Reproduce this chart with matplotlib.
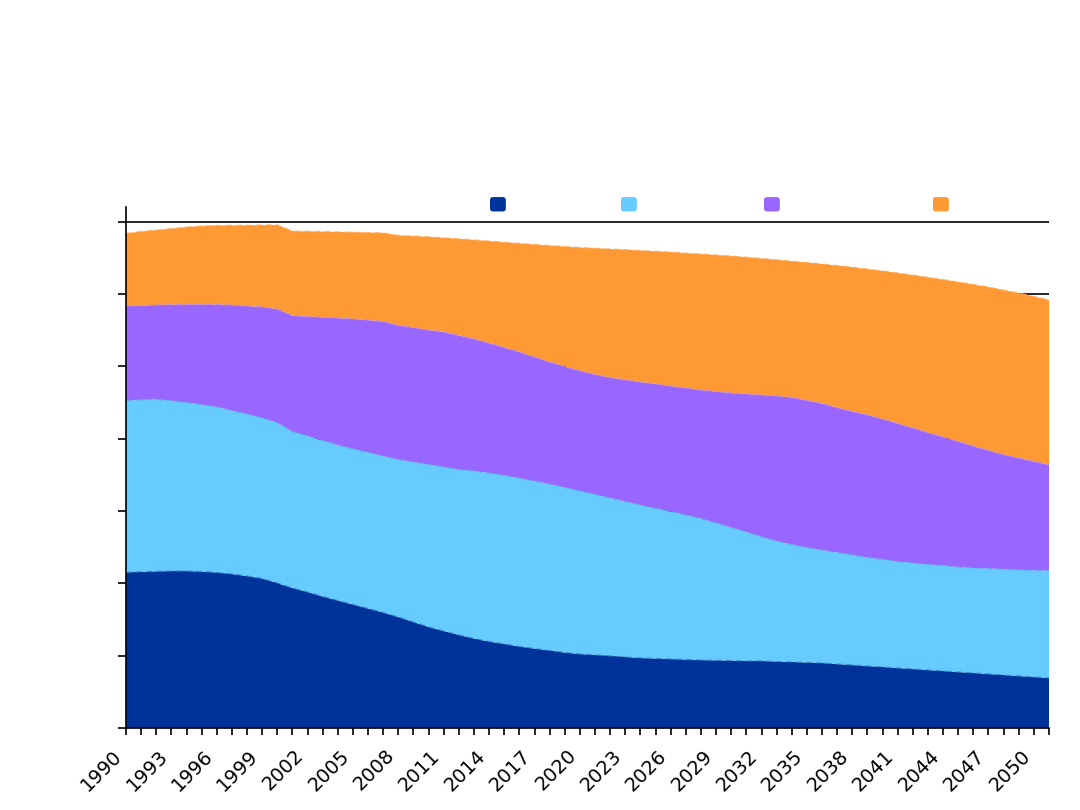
import numpy as np
import matplotlib
matplotlib.use("Agg")
import matplotlib.pyplot as plt
from matplotlib.patches import FancyBboxPatch, Patch
from matplotlib.legend_handler import HandlerPatch

years = list(range(1990, 2052))

series_1 = [215.3, 216.0, 216.7, 217.1, 217.1, 216.4, 215.1, 213.0, 210.2, 206.8,
            200.5, 193.6, 188.1, 181.9, 176.3, 170.8, 165.3, 159.7, 153.5, 146.6,
            139.7, 134.2, 128.6, 123.8, 119.6, 116.2, 112.7, 109.9, 107.2, 104.4,
            102.3, 101.0, 99.6, 98.2, 96.8, 96.1, 95.4, 94.7, 94.0, 93.6,
            93.2, 92.7, 92.7, 92.0, 91.3, 90.6, 89.9, 88.5, 87.1, 85.7,
            84.4, 83.0, 81.6, 80.2, 78.8, 77.4, 76.1, 74.7, 73.3, 71.9,
            70.5, 69.2]
series_2 = [237.3, 237.9, 237.9, 235.8, 233.0, 231.0, 228.9, 226.1, 224.0, 222.0,
            221.7, 216.4, 215.7, 215.7, 215.1, 215.1, 215.7, 216.4, 217.8, 221.3,
            224.7, 226.8, 228.9, 231.7, 233.0, 233.0, 233.0, 231.7, 230.3, 228.2,
            225.4, 222.0, 218.5, 215.1, 211.6, 207.5, 204.0, 199.8, 195.7, 189.9,
            184.1, 178.4, 171.5, 166.7, 162.5, 159.0, 156.3, 154.2, 152.1, 150.1,
            148.7, 147.3, 146.6, 145.9, 145.9, 145.2, 145.2, 145.9, 146.3, 146.9,
            147.6, 148.4]
series_3 = [131.0, 130.4, 130.4, 132.6, 135.8, 138.6, 141.8, 145.9, 149.4, 153.5,
            157.2, 160.2, 165.3, 170.4, 175.6, 179.8, 183.2, 186.0, 185.3, 186.0,
            186.0, 186.7, 185.3, 182.6, 179.8, 177.0, 174.3, 171.5, 168.7, 167.3,
            166.0, 166.0, 166.7, 168.0, 170.1, 172.2, 173.6, 175.6, 177.7, 181.9,
            186.0, 190.9, 196.4, 200.5, 203.3, 203.3, 202.6, 200.5, 198.5, 197.1,
            194.3, 190.9, 186.7, 182.6, 177.7, 173.6, 168.7, 163.2, 158.6, 154.6,
            150.5, 146.2]
series_4 = [100.5, 102.3, 103.7, 105.2, 106.9, 108.3, 109.3, 110.2, 111.7, 113.4,
            116.4, 117.1, 117.8, 118.5, 119.1, 120.0, 121.0, 122.7, 124.7, 126.5,
            128.9, 130.3, 133.7, 136.9, 141.1, 145.5, 150.3, 155.6, 161.1, 166.0,
            170.8, 174.5, 177.7, 180.2, 181.9, 183.5, 185.3, 186.7, 188.1, 188.8,
            189.5, 189.2, 188.8, 188.4, 188.5, 190.9, 192.9, 196.4, 199.6, 201.9,
            204.7, 208.1, 211.6, 214.6, 217.8, 220.6, 223.4, 226.1, 227.5, 228.2,
            228.2, 228.2]

series_names = ["Series 1", "Series 2", "Series 3", "Series 4"]
colors = ["#003399", "#66CCFF", "#9966FF", "#FF9933"]
edge_colors = ["#3377CC", "#55AAEE", "#BB88EE", "#FFAA55"]
y_ticks = [0, 100, 200, 300, 400, 500, 600, 700]
x_label_years = list(range(1990, 2051, 3))

fig = plt.figure(figsize=(10.8, 8.1), dpi=100)
ax = fig.add_axes([126 / 1080, 1 - 728 / 810, (1049 - 126) / 1080, (728 - 207) / 810])

data = [series_1, series_2, series_3, series_4]
ax.stackplot(years, data, colors=colors, labels=series_names, linewidth=0)
cum = np.cumsum(np.array(data), axis=0)
for i in range(4):
    ax.plot(years, cum[i], color=edge_colors[i], lw=0.9, ls=(0, (5, 3)), alpha=0.8, zorder=2)

ax.set_xlim(1990, 2051)
ax.set_ylim(0, 720.6)
ax.set_yticks(y_ticks)
ax.tick_params(axis="y", labelleft=False, length=6, width=1.2, color="black")
ax.set_xticks(years)
ax.set_xticklabels([str(y) if y in x_label_years else "" for y in years])
ax.tick_params(axis="x", length=5, width=1.2, pad=8, labelsize=14)
plt.setp(ax.get_xticklabels(), rotation=45, ha="right")

ax.set_axisbelow(True)
ax.grid(axis="y", color="black", lw=1.2)
ax.grid(axis="x", visible=False)
for s in ["top", "right"]:
    ax.spines[s].set_visible(False)
for s in ["left", "bottom"]:
    ax.spines[s].set_linewidth(1.2)


def make_square(legend, orig_handle, xdescent, ydescent, width, height, fontsize):
    return FancyBboxPatch((-xdescent, -ydescent), width, height,
                          boxstyle="round,pad=0,rounding_size=2")


# one legend entry per square, placed like the reference
legend_left_px = [490, 621, 764, 933]
for i, (name, c) in enumerate(zip(series_names, colors)):
    h = Patch(facecolor=c, edgecolor="none")
    leg = ax.legend([h], [name], loc="center left",
                    bbox_to_anchor=((legend_left_px[i] - 126) / 923, (728 - 205) / 521),
                    frameon=False, fontsize=12, borderpad=0, borderaxespad=0,
                    handlelength=0.95, handleheight=0.95, handletextpad=0.6,
                    handler_map={Patch: HandlerPatch(patch_func=make_square)})
    for t in leg.get_texts():
        t.set_color("white")
    if i < 3:
        ax.add_artist(leg)

fig.savefig("out.png", dpi=100)
